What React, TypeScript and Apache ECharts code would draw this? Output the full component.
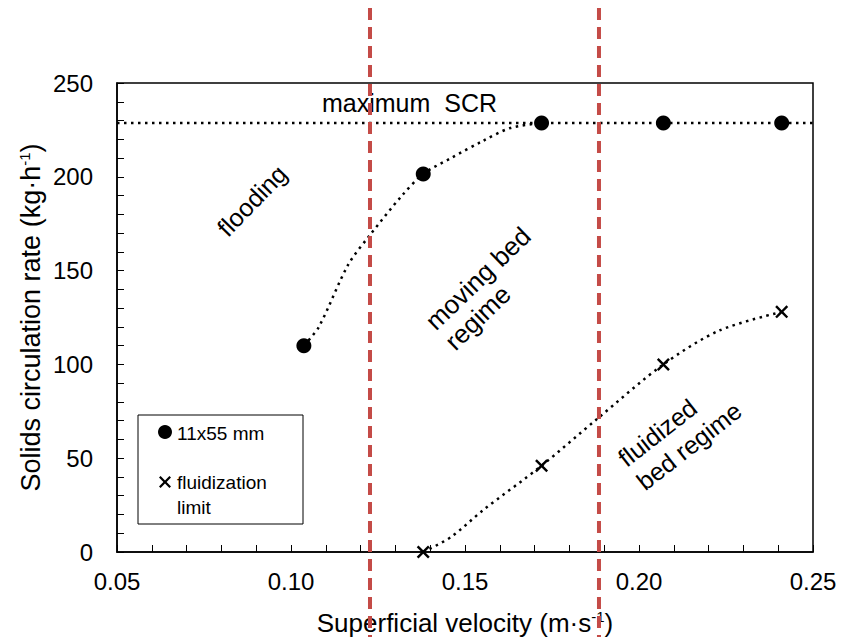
import React, { useEffect, useRef } from "react";
import * as echarts from "echarts";

// Measured data points
const circleX = [0.1037, 0.138, 0.172, 0.207, 0.241];
const circleY = [110, 201.5, 228.7, 228.7, 228.7];
const crossX = [0.138, 0.172, 0.207, 0.241];
const crossY = [0, 46, 100, 128];

// Dotted trend curves
const circleTrendX = [0.1037, 0.108, 0.1164, 0.1227, 0.1319, 0.138, 0.146, 0.155, 0.163, 0.172];
const circleTrendY = [110, 120, 153, 169, 190, 201.5, 210, 219, 226, 228.7];
const crossTrendX = [0.138, 0.146, 0.155, 0.172, 0.188, 0.207, 0.223, 0.241];
const crossTrendY = [0, 8, 22, 46, 71, 100, 118, 128];

const maxSCR = 228.7;
const maxLineX = [0.05, 0.25];
const regimeBounds = [0.1227, 0.1885];

const FONT = "Liberation Sans";
const CROSS_PTS: number[][] = [
  [0, 1.6], [1.6, 0], [6, 4.4], [10.4, 0], [12, 1.6], [7.6, 6], [12, 10.4], [10.4, 12], [6, 7.6], [1.6, 12], [0, 10.4], [4.4, 6],
];
const CROSS_PATH = "path://M" + CROSS_PTS.map((p) => p.join(",")).join(" L") + " Z";

const deg = (d: number) => (d * Math.PI) / 180;

export default function App() {
  const ref = useRef<HTMLDivElement>(null);
  useEffect(() => {
    document.body.style.margin = "0";
    const chart = echarts.init(ref.current!, null, { renderer: "svg" });
    const dotted = { color: "#000", width: 2.5, type: [2.5, 4.5] as any };
    const sup = { fontFamily: FONT, fontSize: 15, color: "#000", padding: [0, 0, 12, 0] };
    const option: any = {
      animation: false,
      backgroundColor: "#fff",
      grid: {
        left: 117,
        right: 35,
        top: 83,
        bottom: 85,
        outerBoundsMode: "none",
        containLabel: false,
        show: true,
        borderColor: "#000",
        borderWidth: 1.5,
        backgroundColor: "transparent",
      },
      xAxis: {
        type: "value",
        min: 0.05,
        max: 0.25,
        interval: 0.05,
        name: "Superficial velocity (m·s{sup|-1})",
        nameLocation: "middle",
        nameGap: 57,
        nameMoveOverlap: false,
        nameTextStyle: { fontFamily: FONT, fontSize: 26, color: "#000", rich: { sup } },
        axisLine: { show: true, lineStyle: { color: "#000", width: 1.5 } },
        axisTick: { show: true, inside: true, length: 7, lineStyle: { color: "#000", width: 1 } },
        minorTick: { show: true, splitNumber: 5, length: 7, lineStyle: { color: "#000", width: 1 } },
        splitLine: { show: false },
        minorSplitLine: { show: false },
        axisLabel: {
          fontFamily: FONT,
          fontSize: 24,
          color: "#000",
          margin: 17,
          formatter: (v: number) => v.toFixed(2),
        },
      },
      yAxis: {
        type: "value",
        min: 0,
        max: 250,
        interval: 50,
        name: "Solids circulation rate (kg·h{sup|-1})",
        nameLocation: "middle",
        nameGap: 73,
        nameMoveOverlap: false,
        nameTextStyle: { fontFamily: FONT, fontSize: 27, color: "#000", rich: { sup } },
        axisLine: { show: true, lineStyle: { color: "#000", width: 1.5 } },
        axisTick: { show: true, inside: true, length: 7, lineStyle: { color: "#000", width: 1 } },
        minorTick: { show: true, splitNumber: 5, length: 7, lineStyle: { color: "#000", width: 1 } },
        splitLine: { show: false },
        minorSplitLine: { show: false },
        axisLabel: { fontFamily: FONT, fontSize: 24, color: "#000", margin: 24 },
      },
      series: [
        {
          name: "max",
          type: "line",
          data: maxLineX.map((x) => [x, maxSCR]),
          showSymbol: false,
          lineStyle: dotted,
          z: 1,
        },
        {
          name: "circleTrend",
          type: "line",
          smooth: 0.3,
          data: circleTrendX.map((x, i) => [x, circleTrendY[i]]),
          showSymbol: false,
          lineStyle: dotted,
          z: 1,
        },
        {
          name: "crossTrend",
          type: "line",
          smooth: 0.3,
          data: crossTrendX.map((x, i) => [x, crossTrendY[i]]),
          showSymbol: false,
          lineStyle: dotted,
          z: 1,
        },
        {
          name: "11x55 mm",
          type: "scatter",
          symbol: "circle",
          symbolSize: 15,
          itemStyle: { color: "#000", opacity: 1 },
          data: circleX.map((x, i) => [x, circleY[i]]),
          z: 5,
        },
        {
          name: "fluidization limit",
          type: "scatter",
          symbol: CROSS_PATH,
          symbolSize: 13,
          itemStyle: { color: "#000", opacity: 1 },
          data: crossX.map((x, i) => [x, crossY[i]]),
          z: 5,
        },
      ],
    };
    chart.setOption(option);

    const redX = regimeBounds.map((v) => chart.convertToPixel({ xAxisIndex: 0 }, v) as number);
    const txt = (x: number, y: number, text: string, rot: number, size: number, lh: number) => ({
      type: "text",
      x,
      y,
      rotation: deg(rot),
      style: {
        text,
        fontFamily: FONT,
        fontSize: size,
        lineHeight: lh,
        fill: "#000",
        textAlign: "left",
        textVerticalAlign: "top",
      },
      z: 10,
    });
    const graphic: any[] = [
      ...redX.map((x) => ({
        type: "line",
        shape: { x1: x, y1: 8, x2: x, y2: 637 },
        style: { stroke: "#c44b47", lineWidth: 4, lineDash: [12, 7] },
        z: 20,
      })),
      txt(322, 88, "maximum  SCR", 0, 25, 29),
      txt(211, 222, "flooding", 46, 25, 29),
      txt(420, 315, "moving bed\nregime", 44, 26, 28),
      txt(612, 449, "fluidized\nbed regime", 38, 25, 30),
      {
        type: "rect",
        shape: { x: 138, y: 415, width: 165, height: 109 },
        style: { fill: "#fff", stroke: "#000", lineWidth: 1 },
        z: 8,
      },
      { type: "circle", shape: { cx: 165, cy: 432, r: 7 }, style: { fill: "#000" }, z: 9 },
      {
        type: "text",
        x: 177,
        y: 433,
        style: { text: "11x55 mm", fontFamily: FONT, fontSize: 19, fill: "#000", textVerticalAlign: "middle" },
        z: 9,
      },
      {
        type: "polygon",
        shape: { points: CROSS_PTS.map(([a, b]) => [159 + a, 476 + b]) },
        style: { fill: "#000" },
        z: 9,
      },
      {
        type: "text",
        x: 177,
        y: 470,
        style: {
          text: "fluidization\nlimit",
          fontFamily: FONT,
          fontSize: 19,
          lineHeight: 25,
          fill: "#000",
          textVerticalAlign: "top",
        },
        z: 9,
      },
    ];
    chart.setOption({ graphic });
    return () => chart.dispose();
  }, []);
  return <div ref={ref} style={{ position: "fixed", left: 0, top: 0, width: 848, height: 637 }} />;
}
